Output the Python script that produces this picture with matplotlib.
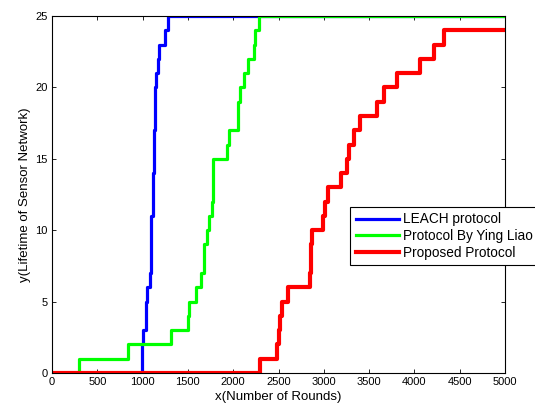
import matplotlib
matplotlib.use("Agg")
import matplotlib.pyplot as plt

# Round at which the node count (y) reaches 1, 2, 3, ...
leach_rounds = [990, 995, 1000, 1040, 1043, 1046, 1085, 1088, 1090, 1092, 1095,
                1110, 1113, 1116, 1125, 1128, 1131, 1134, 1137, 1140, 1143,
                1172, 1176, 1247, 1275]
liao_rounds = [298, 835, 1313, 1505, 1516, 1586, 1645, 1675, 1678, 1715, 1733,
               1770, 1776, 1779, 1782, 1928, 1954, 2050, 2057, 2075, 2123,
               2167, 2235, 2241, 2289]
proposed_rounds = [2296, 2487, 2510, 2520, 2535, 2610, 2848, 2855, 2860, 2866,
                   2995, 3013, 3050, 3190, 3253, 3280, 3335, 3400, 3591, 3665,
                   3812, 4062, 4216, 4330]
x_max = 5000
labels = ["LEACH protocol", "Protocol By Ying Liao", "Proposed Protocol"]
colors = ["#0000ff", "#00ff00", "#ff0000"]
xticks = list(range(0, 5001, 500))
yticks = [0, 5, 10, 15, 20, 25]

plt.rcParams['font.family'] = ['Liberation Sans', 'DejaVu Sans']

fig = plt.figure(figsize=(5.35, 4.09), dpi=100)
ax = fig.add_axes([52/535, 36/409, 453/535, 357/409])

def series(rounds):
    xs = [0] + rounds + [x_max]
    ys = [0] + list(range(1, len(rounds) + 1)) + [len(rounds)]
    return xs, ys

for rounds, lab, col, lw in zip([leach_rounds, liao_rounds, proposed_rounds],
                                labels, colors, [2.3, 2.3, 3.0]):
    xs, ys = series(rounds)
    ax.step(xs, ys, where='post', color=col, linewidth=lw, label=lab)

ax.set_xlim(0, 5000)
ax.set_ylim(0, 25)
ax.set_xticks(xticks)
ax.set_yticks(yticks)
ax.tick_params(direction='in', top=True, right=True, length=3, width=0.6,
               labelsize=8, pad=3)
for s in ax.spines.values():
    s.set_linewidth(0.8)
ax.set_xlabel("x(Number of Rounds)", fontsize=9.5, labelpad=3)
ax.set_ylabel("y(Lifetime of Sensor Network)", fontsize=9.5, labelpad=3)

leg = ax.legend(loc='upper left', bbox_to_anchor=(0.658, 0.465), fontsize=9.8,
                frameon=True, fancybox=False, framealpha=1, edgecolor='black',
                handlelength=3.2, handletextpad=0.3, borderpad=0.4,
                labelspacing=0.2, borderaxespad=0)
leg.get_frame().set_linewidth(0.8)

fig.savefig("out.png", dpi=100)
